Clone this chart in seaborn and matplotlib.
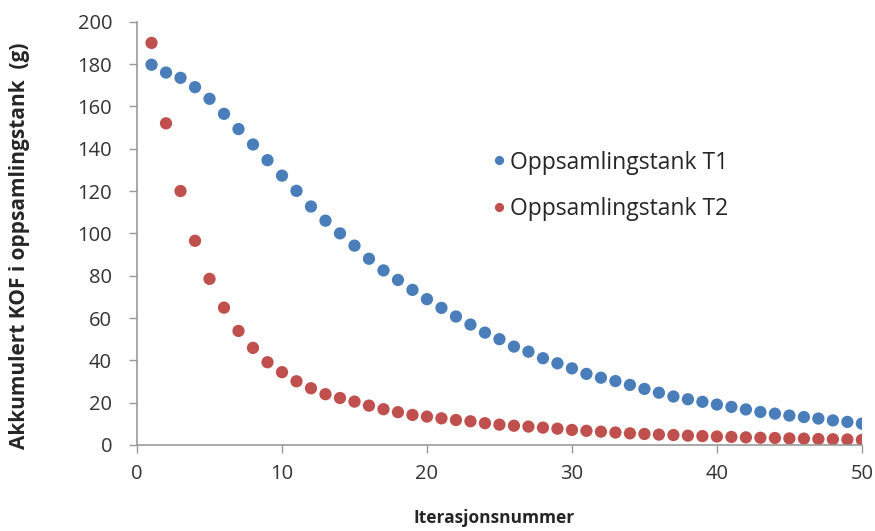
import numpy as np
import pandas as pd
import matplotlib
matplotlib.use('Agg')
import matplotlib.pyplot as plt
import seaborn as sns

# Data
iterasjon = list(range(1, 51))
tank_t1 = [179.7, 176.0, 173.5, 169.1, 163.6, 156.5, 149.3, 142.0, 134.6, 127.3,
           120.1, 112.7, 106.0, 100.0, 94.2, 88.0, 82.5, 78.0, 73.3, 68.9,
           64.8, 60.7, 56.9, 53.1, 50.0, 46.5, 44.1, 41.0, 38.6, 36.2,
           33.6, 31.8, 30.2, 28.4, 26.5, 24.7, 22.9, 21.6, 20.4, 19.1,
           18.0, 16.8, 15.6, 14.8, 13.9, 13.2, 12.5, 11.6, 10.9, 10.1]
tank_t2 = [190.0, 152.0, 120.0, 96.5, 78.5, 64.9, 53.9, 45.9, 39.1, 34.4,
           30.1, 26.8, 24.0, 22.2, 20.5, 18.6, 16.9, 15.5, 14.2, 13.4,
           12.6, 11.8, 11.2, 10.3, 9.6, 9.1, 8.7, 8.2, 7.7, 7.1,
           6.7, 6.3, 5.9, 5.5, 5.2, 4.9, 4.7, 4.4, 4.2, 4.0,
           3.8, 3.6, 3.4, 3.3, 3.1, 3.0, 2.8, 2.7, 2.6, 2.4]
serie_navn = ['Oppsamlingstank T1', 'Oppsamlingstank T2']
farger = ['#4A7EBB', '#C0504D']

df = pd.DataFrame({
    'Iterasjonsnummer': iterasjon * 2,
    'KOF': tank_t1 + tank_t2,
    'Serie': [serie_navn[0]] * 50 + [serie_navn[1]] * 50,
})

sns.set_style('white', {'xtick.bottom': True, 'ytick.left': True})
plt.rcParams['font.family'] = ['Open Sans', 'DejaVu Sans']

fig = plt.figure(figsize=(8.75, 5.31), dpi=100)
ax = fig.add_axes([0.1566, 0.162, 0.8284, 0.797])

sns.scatterplot(data=df, x='Iterasjonsnummer', y='KOF', hue='Serie',
                palette=farger, s=78, edgecolor='none', ax=ax)

ax.set_xlim(0, 50)
ax.set_ylim(0, 200)
ax.set_xticks(np.arange(0, 51, 10))
ax.set_yticks(np.arange(0, 201, 20))
ax.tick_params(axis='both', labelsize=14.5, labelcolor='#333333', color='#999999',
               length=6, width=1, direction='out')
ax.tick_params(axis='x', pad=8)
ax.tick_params(axis='y', pad=12)
for s in ['top', 'right']:
    ax.spines[s].set_visible(False)
for s in ['left', 'bottom']:
    ax.spines[s].set_color('#999999')
    ax.spines[s].set_linewidth(1.2)

# labels placed by hand to sit where the original puts them
ax.set_xlabel('Iterasjonsnummer', fontsize=12.5, fontweight='bold')
ax.set_ylabel('Akkumulert KOF i oppsamlingstank  (g)', fontsize=15,
              fontweight='bold')
ax.xaxis.set_label_coords(0.492, -0.152)
ax.yaxis.set_label_coords(-0.148, 0.47)

leg = ax.legend(loc='center left', bbox_to_anchor=(0.472, 0.612), frameon=False,
                fontsize=16.5, handlelength=0.7, handletextpad=0.15,
                labelspacing=1.0, borderpad=0, markerscale=0.75)
leg.set_title(None)

fig.savefig('out.png', dpi=100)
